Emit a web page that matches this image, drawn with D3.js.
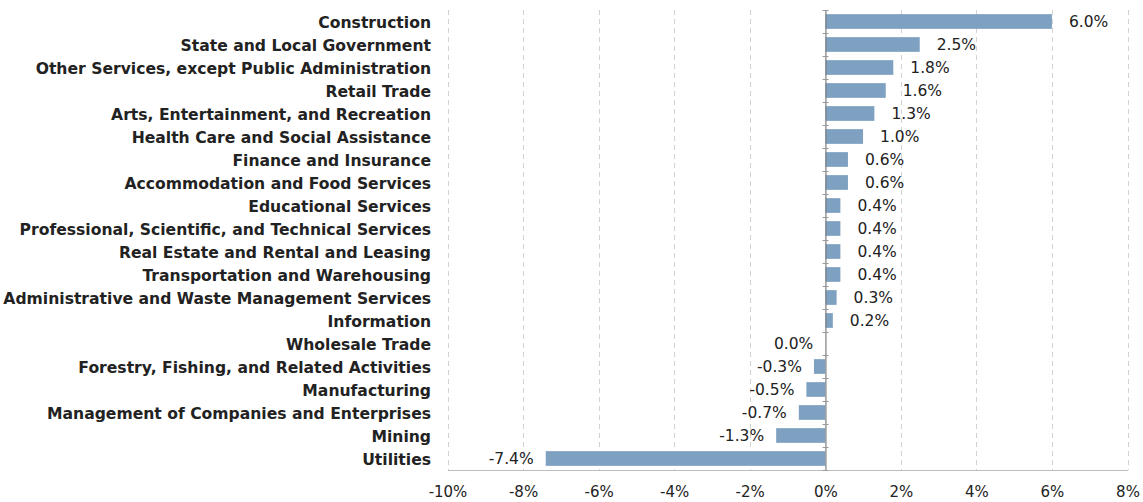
<!DOCTYPE html>
<html>
<head>
<meta charset="utf-8">
<script src="https://cdn.jsdelivr.net/npm/d3@7"></script>
<style>
  body { margin: 0; background: #fff; }
  svg text { fill: #222; }
</style>
</head>
<body>
<div id="graph"></div>
<script>
var categories = [
	'Construction',
	'State and Local Government',
	'Other Services, except Public Administration',
	'Retail Trade',
	'Arts, Entertainment, and Recreation',
	'Health Care and Social Assistance',
	'Finance and Insurance',
	'Accommodation and Food Services',
	'Educational Services',
	'Professional, Scientific, and Technical Services',
	'Real Estate and Rental and Leasing',
	'Transportation and Warehousing',
	'Administrative and Waste Management Services',
	'Information',
	'Wholesale Trade',
	'Forestry, Fishing, and Related Activities',
	'Manufacturing',
	'Management of Companies and Enterprises',
	'Mining',
	'Utilities'
]
var values = [6.0, 2.5, 1.8, 1.6, 1.3, 1.0, 0.6, 0.6, 0.4, 0.4, 0.4, 0.4, 0.3, 0.2, 0.0, -0.3, -0.5, -0.7, -1.3, -7.4]
var xTicks = [-10, -8, -6, -4, -2, 0, 2, 4, 6, 8]

var w = 1143
var h = 502
var plotLeft = 447.5
var plotRight = 1127.5
var plotTop = 10
var plotBottom = 470

var svg = d3.select('#graph')
	.append('svg')
	.attr('width', w)
	.attr('height', h)

var xScale = d3.scaleLinear()
	.domain([-10, 8])
	.range([plotLeft, plotRight])

var yScale = d3.scaleBand()
	.domain(categories)
	.range([plotTop, plotBottom])
	.paddingInner(0.36)
	.paddingOuter(0.18)

// band boundaries for the zero-axis ticks
var rowScale = d3.scaleBand()
	.domain(categories)
	.range([plotTop, plotBottom])

// gridlines
svg.append('g')
	.selectAll('line')
	.data(xTicks)
	.enter()
	.append('line')
	.attr('x1', (d) => Math.round(xScale(d)) + 0.5)
	.attr('x2', (d) => Math.round(xScale(d)) + 0.5)
	.attr('y1', plotTop)
	.attr('y2', plotBottom)
	.attr('stroke', '#d2d2d2')
	.attr('stroke-width', 1)
	.attr('stroke-dasharray', (d) => d === 0 ? null : '5,4')

// bottom axis
var xAxis = d3.axisBottom(xScale)
	.tickValues(xTicks)
	.tickSize(0)
	.tickPadding(16)
	.tickFormat((d) => d + '%')

var xAxisGroup = svg.append('g')
	.attr('transform', 'translate(0,' + plotBottom + ')')
	.call(xAxis)

xAxisGroup.select('.domain')
	.attr('stroke', '#bdbdbd')
xAxisGroup.selectAll('text')
	.attr('font-family', 'DejaVu Sans')
	.attr('font-size', 15)
	.attr('fill', '#222')

// bars
svg.append('g')
	.selectAll('rect')
	.data(values)
	.enter()
	.append('rect')
	.attr('x', (d) => xScale(Math.min(0, d)))
	.attr('width', (d) => Math.abs(xScale(d) - xScale(0)))
	.attr('y', (d, i) => yScale(categories[i]))
	.attr('height', yScale.bandwidth())
	.attr('fill', '#7fa1c1')

// zero axis with ticks between rows
var yAxis = d3.axisLeft(rowScale)
	.tickSize(0)
	.tickFormat('')

var zeroGroup = svg.append('g')
	.attr('transform', 'translate(' + (Math.round(xScale(0)) + 0.5) + ',0)')
	.call(yAxis)
zeroGroup.select('.domain').attr('stroke', '#7a7a7a')

zeroGroup.selectAll('.edge')
	.data(categories.concat(['end']))
	.enter()
	.append('line')
	.attr('class', 'edge')
	.attr('x1', -3)
	.attr('x2', 3)
	.attr('y1', (d, i) => Math.round(plotTop + rowScale.step() * i) + 0.5)
	.attr('y2', (d, i) => Math.round(plotTop + rowScale.step() * i) + 0.5)
	.attr('stroke', '#9a9a9a')

// category labels
svg.append('g')
	.selectAll('text')
	.data(categories)
	.enter()
	.append('text')
	.attr('x', 431)
	.attr('y', (d) => rowScale(d) + rowScale.bandwidth() / 2 + 1)
	.attr('dy', '0.35em')
	.attr('text-anchor', 'end')
	.attr('font-family', 'DejaVu Sans')
	.attr('font-weight', 'bold')
	.attr('font-size', 15.6)
	.text((d) => d)

// value labels
svg.append('g')
	.selectAll('text')
	.data(values)
	.enter()
	.append('text')
	.attr('x', (d) => d > 0 ? xScale(d) + 17 : xScale(Math.min(0, d)) - 12)
	.attr('y', (d, i) => rowScale(categories[i]) + rowScale.bandwidth() / 2)
	.attr('dy', '0.35em')
	.attr('text-anchor', (d) => d > 0 ? 'start' : 'end')
	.attr('font-family', 'DejaVu Sans')
	.attr('font-size', 15.5)
	.text((d) => d.toFixed(1) + '%')
</script>
</body>
</html>
